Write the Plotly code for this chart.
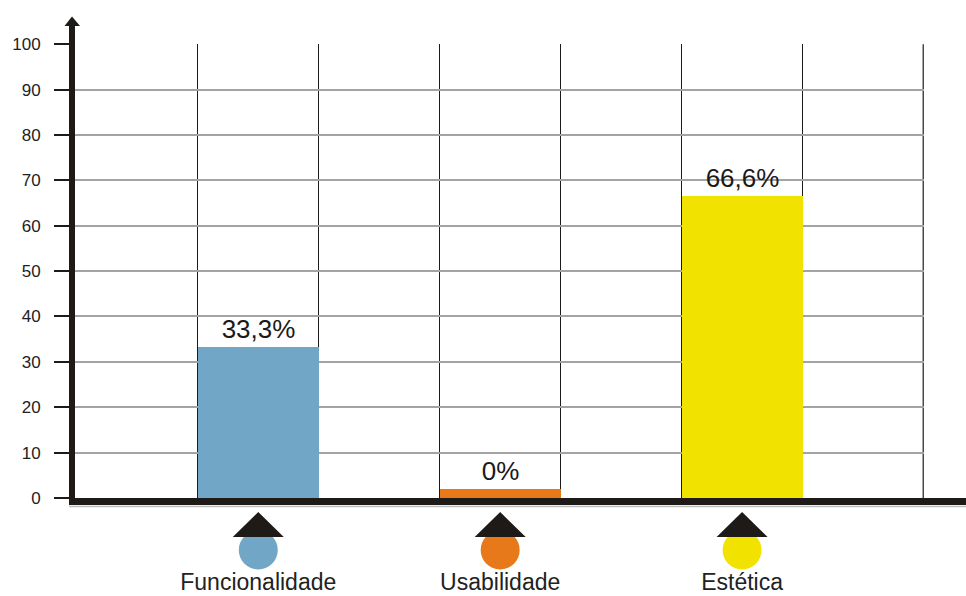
import plotly.graph_objects as go

# Data
categories = ["Funcionalidade", "Usabilidade", "Estética"]
percentages = [33.3, 0, 66.6]
bar_colors = ["#71a6c6", "#e8791a", "#f2e200"]
y_ticks = list(range(0, 101, 10))

# Layout geometry (pixels)
W, H = 966, 596
L, R, T, B = 72, 42, 44, 30
PLOT_W = W - L - R
PLOT_H = H - T - B
ZERO_PX = 498          # pixel row of y = 0
ICON_BAND = 60         # height of the icon strip under the axis
INK = "#1e1a17"

# empty categories still get a thin visible strip
MIN_BAR = 2

X_RANGE = [-0.77, 2.752]
UNIT_PX = PLOT_W / (X_RANGE[1] - X_RANGE[0])


def pxx(p):
    return (p - L) / PLOT_W


def pxy(p):
    return (H - B - p) / PLOT_H


main_bottom = pxy(ZERO_PX)
icon_top = ICON_BAND / PLOT_H

x_pos = list(range(len(categories)))
labels = [f"{v:g}".replace(".", ",") + "%" for v in percentages]
bar_heights = [max(v, MIN_BAR) for v in percentages]

fig = go.Figure()

fig.add_trace(go.Bar(
    x=x_pos, y=bar_heights, width=0.5,
    marker=dict(color=bar_colors, line=dict(width=0)),
    text=labels, textposition="outside",
    textfont=dict(family="Liberation Sans, Arial, sans-serif", size=26, color="#1a1a1a"),
    cliponaxis=False, hoverinfo="skip", showlegend=False,
    xaxis="x", yaxis="y",
))

# category icons: coloured dot under a flat black arrowhead
fig.add_trace(go.Scatter(
    x=x_pos, y=[16] * len(x_pos), mode="markers",
    marker=dict(symbol="circle", size=39, color=bar_colors, line=dict(width=0)),
    cliponaxis=False, hoverinfo="skip", showlegend=False,
    xaxis="x2", yaxis="y2",
))

head_half = 25.5 / UNIT_PX   # half base width of the arrowhead, in category units
head_tip, head_base = 54, 29
tri_x, tri_y = [], []
for c in x_pos:
    tri_x += [c - head_half, c, c + head_half, c - head_half, None]
    tri_y += [head_base, head_tip, head_base, head_base, None]
fig.add_trace(go.Scatter(
    x=tri_x, y=tri_y, mode="lines", fill="toself", fillcolor=INK,
    line=dict(width=0, color=INK),
    cliponaxis=False, hoverinfo="skip", showlegend=False,
    xaxis="x2", yaxis="y2",
))

grid_vals = [-0.25, 0.25, 0.75, 1.25, 1.75, 2.25, 2.75]

shapes = [
    # right border of the grid
    dict(type="line", xref="x", yref="y", layer="below",
         x0=grid_vals[-1], x1=grid_vals[-1], y0=0, y1=y_ticks[-1],
         line=dict(color="#4a4646", width=2)),
    # shadow under the horizontal axis
    dict(type="line", xref="paper", yref="paper",
         x0=pxx(69), x1=pxx(966), y0=pxy(506.5), y1=pxy(506.5),
         line=dict(color="#bdbdbd", width=1.5)),
    # horizontal axis
    dict(type="line", xref="paper", yref="paper",
         x0=pxx(69), x1=pxx(966), y0=pxy(501.5), y1=pxy(501.5),
         line=dict(color=INK, width=7)),
    # vertical axis
    dict(type="line", xref="paper", yref="paper",
         x0=pxx(72), x1=pxx(72), y0=pxy(505), y1=pxy(24),
         line=dict(color=INK, width=6)),
    # arrowhead of the vertical axis
    dict(type="path", xref="paper", yref="paper",
         path=(f"M {pxx(64.5)} {pxy(26)} L {pxx(72)} {pxy(16.5)} "
               f"L {pxx(80)} {pxy(26)} Z"),
         fillcolor=INK, line=dict(width=0)),
]

fig.update_layout(
    width=W, height=H, autosize=False,
    margin=dict(l=L, r=R, t=T, b=B, pad=0, autoexpand=False),
    paper_bgcolor="white", plot_bgcolor="white",
    font=dict(family="Liberation Sans, Arial, sans-serif", color="#222222"),
    bargap=0,
    xaxis=dict(
        domain=[0, 1], anchor="y", range=X_RANGE, automargin=False,
        tickmode="array", tickvals=grid_vals, showticklabels=False, ticks="",
        showgrid=True, gridcolor=INK, gridwidth=1.2,
        zeroline=False, showline=False, fixedrange=True,
    ),
    yaxis=dict(
        domain=[main_bottom, 1], anchor="x", range=[0, 100.05], automargin=False,
        tickmode="array", tickvals=y_ticks, ticktext=[str(v) for v in y_ticks],
        ticks="outside", ticklen=17, tickwidth=2, tickcolor=INK,
        ticklabelstandoff=10,
        tickfont=dict(size=17, color="#222222"),
        showgrid=True, gridcolor="#a3a3a3", gridwidth=2,
        zeroline=False, showline=False, fixedrange=True,
    ),
    xaxis2=dict(
        domain=[0, 1], anchor="y2", matches="x", range=X_RANGE, automargin=False,
        tickmode="array", tickvals=x_pos, ticktext=categories, ticks="",
        tickfont=dict(size=23, color="#222222"),
        showgrid=False, zeroline=False, showline=False, fixedrange=True,
    ),
    yaxis2=dict(
        domain=[0, icon_top], anchor="x2", range=[0, ICON_BAND],
        visible=False, fixedrange=True,
    ),
    shapes=shapes,
)

fig.write_html("out.html", include_plotlyjs=True, config={"displayModeBar": False})
